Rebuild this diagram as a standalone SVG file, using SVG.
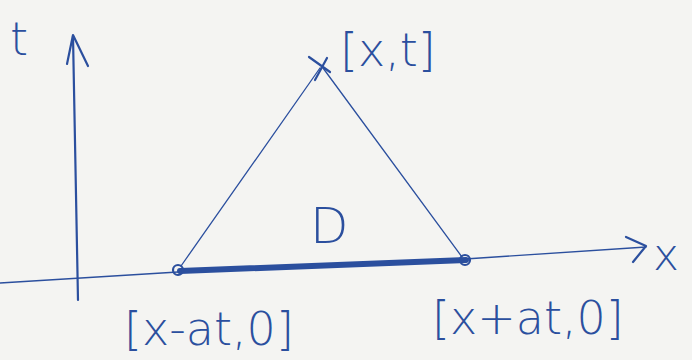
<svg xmlns="http://www.w3.org/2000/svg" width="692" height="360" viewBox="0 0 692 360">
<style>
.ink{fill:none;stroke:#2b4f9e;stroke-linecap:round;stroke-linejoin:round}
.thin{stroke-width:1.3}
.pen{stroke-width:2.2}
.lbl{font-family:"DejaVu Sans","Liberation Sans",sans-serif;font-weight:200;fill:#2b4f9e}
</style>
<rect width="692" height="360" fill="#f4f4f2"/>
<g id="connectors">
<path id="t-axis" class="ink pen" d="M78,300 L73,36"/>
<path class="ink pen" d="M67,64 L73,35 L88,66"/>
<path id="x-axis" class="ink thin" d="M0,283 L178,272 M465,259 L646,247"/>
<path class="ink pen" d="M626,237 L646,246 L633,262"/>
<path id="left-edge" class="ink thin" d="M181,266 L320,68"/>
<path id="right-edge" class="ink thin" d="M323,68 L462,257"/>
<path id="base" class="ink" stroke-width="6" d="M180,271 L466,260"/>
</g>
<g id="node-apex">
<path class="ink pen" d="M309,57 L330,72 M327,58 L315,80"/>
<text class="lbl" x="340" y="66" font-size="46">[x,t]</text>
</g>
<g id="node-left">
<circle class="ink pen" cx="178" cy="270" r="5"/>
<text class="lbl" x="124" y="345" font-size="46">[x-at,0]</text>
</g>
<g id="node-right">
<circle class="ink pen" cx="465" cy="260" r="5"/>
<text class="lbl" x="432" y="334" font-size="46">[x+at,0]</text>
</g>
<g id="node-D"><text class="lbl" x="310" y="243" font-size="50">D</text></g>
<g id="label-t"><text class="lbl" x="10" y="55" font-size="46">t</text></g>
<g id="label-x"><text class="lbl" x="653" y="270" font-size="44">x</text></g>
</svg>
